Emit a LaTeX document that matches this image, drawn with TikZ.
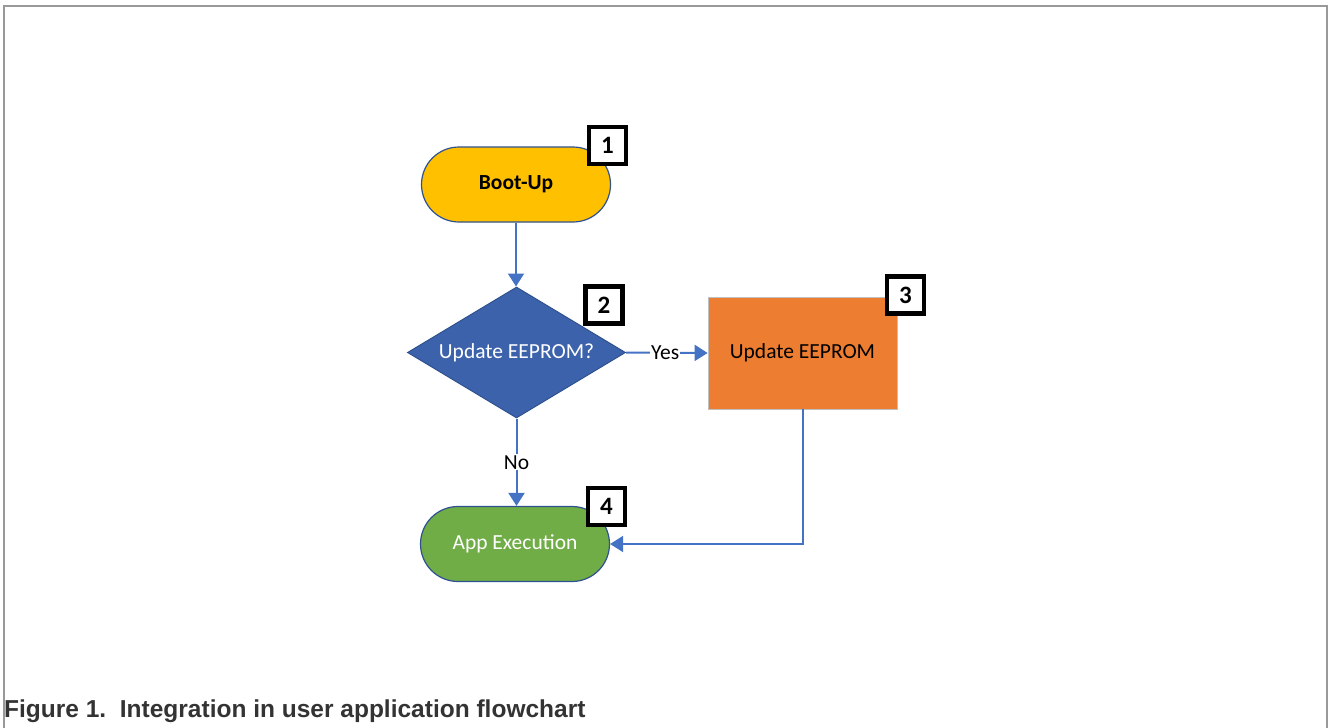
\documentclass[tikz,border=0pt]{standalone}
\usepackage{fontspec}
\setmainfont{Carlito}
\newfontfamily\capfont{Liberation Sans}
\usetikzlibrary{shapes.geometric,shapes.misc,arrows.meta}
\definecolor{linkblue}{HTML}{4472C4}
\definecolor{edgeblue}{HTML}{2F528F}
\definecolor{bootfill}{HTML}{FFC000}
\definecolor{diafill}{HTML}{3C62AB}
\definecolor{rectfill}{HTML}{ED7D31}
\definecolor{appfill}{HTML}{70AD47}
\begin{document}
\begin{tikzpicture}[x=1pt,y=-1pt,
  term/.style={rounded rectangle,draw=edgeblue,line width=1.2pt,minimum width=189pt,minimum height=75pt,inner sep=0pt,font=\fontsize{21.5}{24}\selectfont},
  numbox/.style={draw=black,line width=4.5pt,fill=white,minimum size=37pt,inner sep=0pt,font=\bfseries\fontsize{25}{27}\selectfont},
  conn/.style={draw=linkblue,line width=2pt,-{Triangle[length=13pt,width=16pt]}},
  lab/.style={fill=white,inner sep=1pt,font=\fontsize{21.5}{24}\selectfont}
]
\useasboundingbox (0,0) rectangle (1328,728);
\draw[gray!80,line width=1.3pt] (4,728) -- (4,6) -- (1327,6) -- (1327,728);
\node[term,fill=bootfill,font=\bfseries\fontsize{21.5}{24}\selectfont] (boot) at (516,184.5) {Boot-Up};
\node[numbox] (n1) at (607.5,145.5) {1};
\node[diamond,aspect=1.66,fill=diafill,draw=edgeblue,line width=1pt,minimum width=218pt,minimum height=131pt,inner sep=0pt,text=white,font=\fontsize{21.5}{24}\selectfont] (dec) at (516.5,352.5) {Update EEPROM?};
\node[numbox] (n2) at (604,305) {2};
\node[rectangle,fill=rectfill,draw=gray!50,line width=0.8pt,minimum width=189pt,minimum height=112pt,inner sep=0pt,font=\fontsize{21.5}{24}\selectfont] (upd) at (802.5,353) {Update EEPROM};
\node[numbox] (n3) at (905.5,295) {3};
\node[term,fill=appfill,text=white] (app) at (515,544) {App Execution};
\node[numbox] (n4) at (606.5,506.5) {4};
\draw[conn] (boot.south) -- (boot.south |- dec.north);
\draw[conn] (dec.east) -- node[lab,pos=0.48] {Yes} (upd.west);
\draw[conn] (dec.south) -- node[lab,pos=0.5] {No} (app.north -| dec.south);
\draw[conn] (upd.south) |- (app.east);
\node[anchor=base west,inner sep=0pt,text=black!80,font=\capfont\bfseries\fontsize{24.5}{27}\selectfont] (cap) at (4,717) {Figure 1.\ \ Integration in user application flowchart};
\end{tikzpicture}
\end{document}
